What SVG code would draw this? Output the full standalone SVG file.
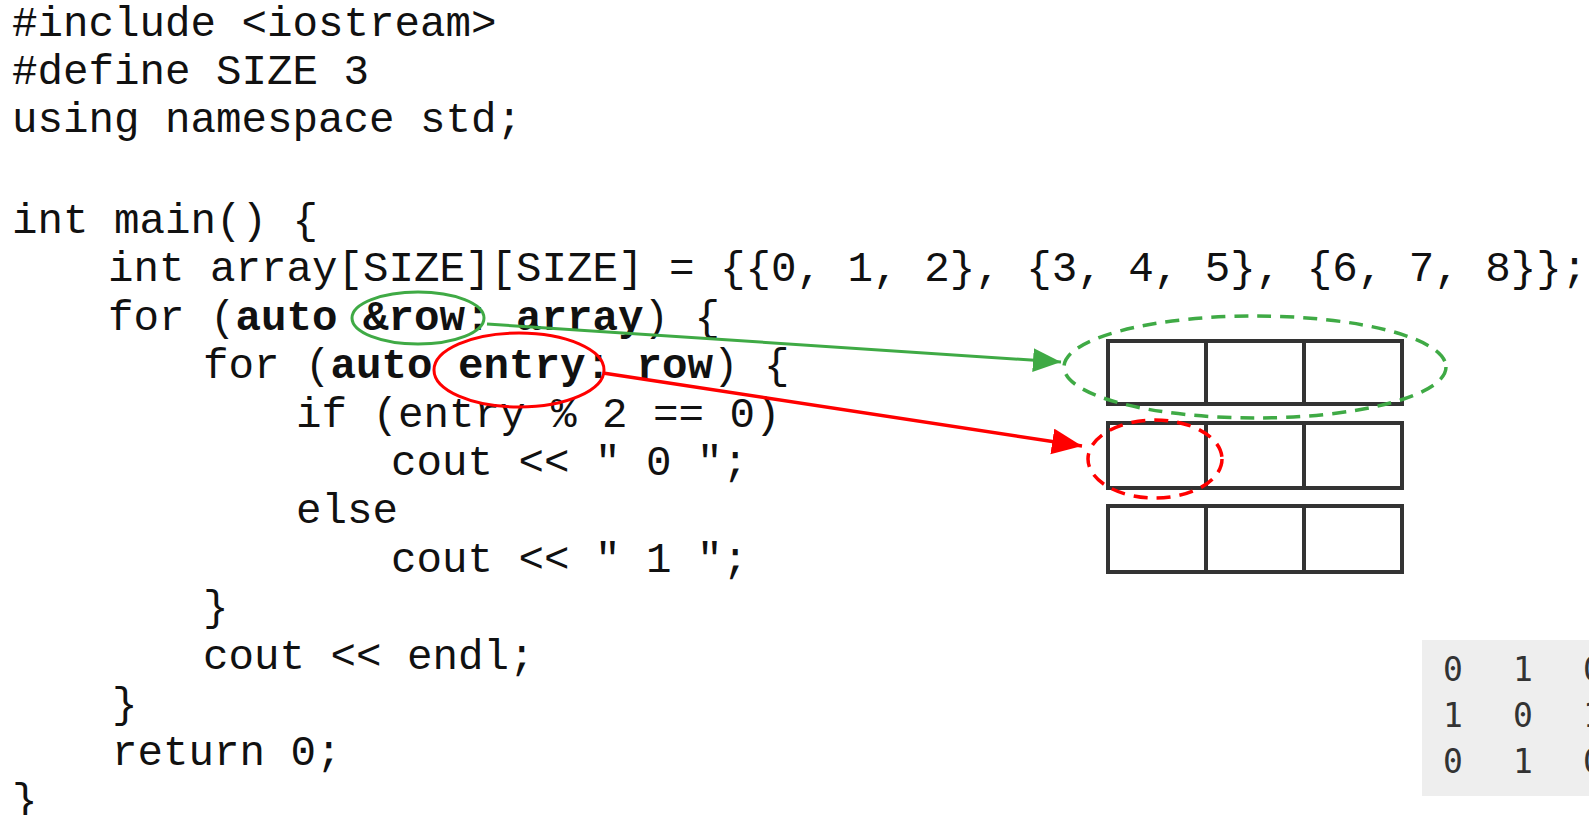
<svg xmlns="http://www.w3.org/2000/svg" width="1589" height="815" viewBox="0 0 1589 815">
<defs>
<style>
.code{font-family:"Liberation Mono","Courier New",monospace;font-size:42.5px;fill:#111;}
.b{font-weight:bold;}
.cell{fill:#fff;stroke:#333;stroke-width:4;}
.out{font-family:"DejaVu Sans Mono","Liberation Mono",monospace;font-size:33px;fill:#333;}
</style>
<marker id="ag" markerUnits="userSpaceOnUse" markerWidth="30" markerHeight="26" refX="28" refY="12" orient="auto"><path d="M0,0 L28,12 L0,24 Z" fill="#3faa45"/></marker>
<marker id="ar" markerUnits="userSpaceOnUse" markerWidth="32" markerHeight="28" refX="30" refY="13" orient="auto"><path d="M0,0 L30,13 L0,26 Z" fill="#ff0000"/></marker>
</defs>
<rect width="1589" height="815" fill="#fff"/>
<g id="code">
<text class="code" x="12" y="35.5">#include &lt;iostream&gt;</text>
<text class="code" x="12" y="83.5">#define SIZE 3</text>
<text class="code" x="12" y="131.5">using namespace std;</text>
<text class="code" x="12" y="232.5">int main() {</text>
<text class="code" x="108" y="281">int array[SIZE][SIZE] = {{0, 1, 2}, {3, 4, 5}, {6, 7, 8}};</text>
<text class="code" x="108" y="329.5" xml:space="preserve">for (<tspan class="b">auto &amp;row: array</tspan>) {</text>
<text class="code" x="203" y="377.5" xml:space="preserve">for (<tspan class="b">auto entry: row</tspan>) {</text>
<text class="code" x="296" y="426.5">if (entry % 2 == 0)</text>
<text class="code" x="391" y="474.5">cout &lt;&lt; " 0 ";</text>
<text class="code" x="296" y="522.5">else</text>
<text class="code" x="391" y="571.5">cout &lt;&lt; " 1 ";</text>
<text class="code" x="203" y="619.5">}</text>
<text class="code" x="203" y="668.5">cout &lt;&lt; endl;</text>
<text class="code" x="112" y="716.5">}</text>
<text class="code" x="112" y="764.5">return 0;</text>
<text class="code" x="12" y="813">}</text>
</g>
<g id="array">
<rect class="cell" x="1108" y="341" width="98" height="63"/>
<rect class="cell" x="1206" y="341" width="98" height="63"/>
<rect class="cell" x="1304" y="341" width="98" height="63"/>
<rect class="cell" x="1108" y="423" width="98" height="65"/>
<rect class="cell" x="1206" y="423" width="98" height="65"/>
<rect class="cell" x="1304" y="423" width="98" height="65"/>
<rect class="cell" x="1108" y="506" width="98" height="66"/>
<rect class="cell" x="1206" y="506" width="98" height="66"/>
<rect class="cell" x="1304" y="506" width="98" height="66"/>
</g>
<g id="highlights" fill="none">
<ellipse id="row-circle" cx="418" cy="318" rx="66" ry="26" stroke="#3faa45" stroke-width="3"/>
<ellipse id="entry-circle" cx="519" cy="370" rx="85" ry="37" stroke="#ff0000" stroke-width="3"/>
<ellipse id="row-target" cx="1255" cy="367" rx="191" ry="51" stroke="#3faa45" stroke-width="3.5" stroke-dasharray="14,9"/>
<ellipse id="entry-target" cx="1155" cy="459" rx="67" ry="39" stroke="#ff0000" stroke-width="3.5" stroke-dasharray="14,9"/>
</g>
<g id="connectors" fill="none">
<line x1="487" y1="324" x2="1061" y2="362" stroke="#3faa45" stroke-width="3" marker-end="url(#ag)"/>
<line x1="603" y1="373" x2="1082" y2="446" stroke="#ff0000" stroke-width="3.5" marker-end="url(#ar)"/>
</g>
<g id="output">
<rect x="1422" y="640" width="180" height="156" fill="#eeeeee"/>
<text class="out" x="1443" y="681">0</text>
<text class="out" x="1513" y="681">1</text>
<text class="out" x="1583" y="681">0</text>
<text class="out" x="1443" y="727">1</text>
<text class="out" x="1513" y="727">0</text>
<text class="out" x="1583" y="727">1</text>
<text class="out" x="1443" y="773">0</text>
<text class="out" x="1513" y="773">1</text>
<text class="out" x="1583" y="773">0</text>
</g>
</svg>
